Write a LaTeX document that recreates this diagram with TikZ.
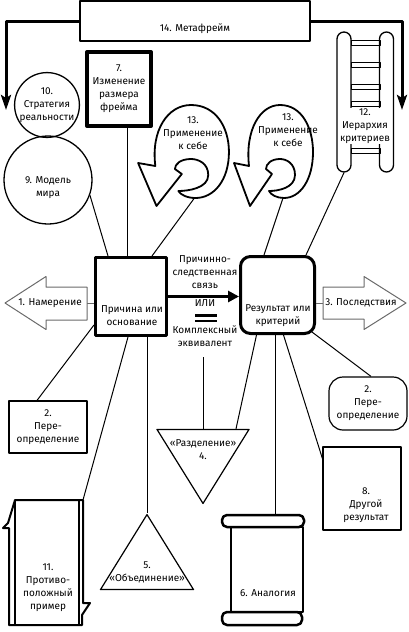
\documentclass[tikz,border=0pt]{standalone}
\usepackage{fontspec}
\setmainfont{Fira Sans}
\usepackage{xcolor}
\usepackage[]{tikz}
\usetikzlibrary{positioning,shapes,calc}
\usetikzlibrary{arrows.meta}
\definecolor{softGray}{HTML}{6A6A6A}
\tikzstyle{txt}   =[font=\fontsize{10}{13}\selectfont, align=center, inner sep=0pt]
\tikzstyle{boxThin}=[draw, line width=1.2pt, inner sep=0pt]
\tikzstyle{boxFat} =[draw, line width=3pt, inner sep=0pt]
\tikzstyle{wedge} =[draw, line width=1.2pt, isosceles triangle, isosceles triangle stretches, inner sep=0pt]
\tikzstyle{hollow}=[draw=softGray, line width=1pt]
\tikzset{fatarrow/.style={line width=3pt, -{Stealth[length=15pt,width=10pt,inset=3pt]}},
    conn/.style={line width=1pt},
    selfloop/.pic={%
        \draw[line width=1.8pt, line join=round] (-46,13) -- (-31,16)
          .. controls (-35,-20) and (-20,-45) .. (0,-45)
          .. controls (22,-45) and (33,-22) .. (33,2)
          .. controls (33,30) and (20,48) .. (4,48)
          .. controls (-3,48) and (-9,45) .. (-11,41)
          .. controls (-2,41) and (15,38) .. (15,25)
          .. controls (15,13) and (6,9) .. (0,9)
          .. controls (-9,9) and (-14,14) .. (-14,19)
          -- (-8,24) -- (-30,56) -- cycle;
        \coordinate (-tail) at (3,48);
    }
}

\begin{document}
\begin{tikzpicture}[x=1pt,y=-1pt,line join=round]
      \useasboundingbox (0,0) rectangle (408,632);
      % top row
      \node[boxThin, minimum width=230, minimum height=40] (meta) at (195,21) {};
      \node[txt] (metaT) at (195,29) {14. Метафрейм};
      \coordinate (metaL) at (6,110);
      \coordinate (metaR) at (402,110);
      \draw[fatarrow] (meta.west) -| (metaL);
      \draw[fatarrow] (meta.east) -| (metaR);
      \node[draw, line width=4pt, minimum width=64, minimum height=74, txt] (frame7) at (119,89) {7.\\Изменение\\размера\\фрейма};
      \node[draw, circle, line width=1.3pt, minimum size=62, txt] (strat10) at (47,105) {10.\\Стратегия\\реальности};
      \node[draw, circle, line width=1.3pt, minimum size=88] (model9) at (48,180) {};
      \node[txt] (model9T) at (48,188) {9. Модель\\мира};
      \pic[xscale=1.15] (selfL) at (191,150) {selfloop};
      \pic (selfR) at (280,150) {selfloop};
      \node[txt] (selfLT) at (193,133) {13.\\Применение\\к себе};
      \node[txt] (selfRT) at (288,130) {13.\\Применение\\к себе};
      % ladder
      \node[draw, line width=1.3pt, rounded corners=7pt, minimum width=14, minimum height=140] (railL) at (344,102) {};
      \node[draw, line width=1.3pt, rounded corners=7pt, minimum width=14, minimum height=140] (railR) at (386.5,102) {};
      \foreach \y in {40,62,84,101,148}
        \draw[line width=1pt] (351,\y) rectangle (380,\y+5);
      \node[txt, fill=white, inner sep=1pt] (ladderT) at (365,126) {12.\\Иерархия\\критериев};
      % centre
      \node[boxFat, minimum width=71, minimum height=78] (cause) at (131,296.5) {};
      \node[txt] (causeT) at (132,316) {Причина или\\основание};
      \node[boxFat, rounded corners=10pt, minimum width=74, minimum height=77] (result) at (277.5,295) {};
      \node[txt] (resultT) at (278,316) {Результат или\\критерий};
      \draw[line width=3pt, -{Triangle[length=11pt,width=11pt]}] (cause.east) -- (cause.east -| result.west);
      \node[txt] (linkT) at (205,272) {Причинно-\\следственная\\связь};
      \node[txt] (orT) at (205,303) {ИЛИ};
      \draw[line width=2.5pt] (195,315.5) -- (217,315.5) (195,321) -- (217,321);
      \node[txt] (equivT) at (205,336) {Комплексный\\эквивалент};
      \coordinate (eqfoot) at (203,357);
      % side arrows
      \draw[hollow] (5,303) -- (46,276.5) -- (46,287) -- (87,287) -- (87,320) -- (46,320) -- (46,329.5) -- cycle;
      \draw[hollow] (406,303) -- (364,276.5) -- (364,287) -- (323,287) -- (323,319) -- (364,319) -- (364,329.5) -- cycle;
      \node[txt] (intent) at (50,303) {1. Намерение};
      \node[txt] (conseq) at (361,303) {3. Последствия};
      \coordinate (intentTail) at (87,303);
      \coordinate (conseqTail) at (323,303);
      \draw[conn, softGray] (intentTail) -- (intentTail -| cause.west);
      \draw[conn, softGray] (conseqTail) -- (conseqTail -| result.east);
      % lower part
      \node[boxThin, minimum width=78, minimum height=52, txt] (redefL) at (48,427) {2.\\Пере-\\определение};
      \node[boxThin, rounded corners=14pt, minimum width=78, minimum height=53, txt] (redefR) at (368,403.5) {2.\\Пере-\\определение};
      \node[wedge, shape border rotate=270, minimum width=92, minimum height=74, anchor=apex] (split4) at (203,505) {};
      \node[txt] (split4T) at (203,450) {«Разделение»\\4.};
      \node[wedge, shape border rotate=90, minimum width=93, minimum height=75, anchor=apex] (unite5) at (147,513) {};
      \node[txt] (unite5T) at (147,572) {5.\\«Объединение»};
      \node[boxThin, minimum width=78, minimum height=83] (other8) at (362,488.5) {};
      \node[txt] (other8T) at (366,505) {8.\\Другой\\результат};
      % 11
      \coordinate (counter11) at (83,500);
      \draw[line width=2pt] (15,500) -- (83,500) -- (83,603) -- (90,603) -- (82,615) -- (82,625)
            -- (9,625) -- (9,528) -- (3,528) -- (8,523) -- cycle;
      \draw[line width=1.5pt] (15,500) -- (15,625) (79,500) -- (79,625);
      \node[txt] (counter11T) at (48,588) {11.\\Противо-\\положный\\пример};
      % 6
      \coordinate (scrollTop) at (275,515);
      \node[draw, line width=2.5pt, minimum width=72, minimum height=85] (analogy6) at (267,569.5) {};
      \draw[line width=2.5pt, rounded corners=5pt] (222,515) rectangle (304,527);
      \draw[line width=2.5pt, rounded corners=5pt] (222,612) rectangle (302,625);
      \node[txt] (analogy6T) at (268,593) {6. Аналогия};
      % connectors
      \draw[conn] ([xshift=8pt]frame7.south) -- ([xshift=8pt]frame7.south |- cause.north);
      \draw[conn] (model9.-20) -- ([xshift=14pt]cause.north west);
      \draw[conn] (selfL-tail) -- ([xshift=-16pt]cause.north east);
      \draw[conn] (selfR-tail) -- ([xshift=25pt]result.north west);
      \draw[conn] (railL.south) -- ([xshift=-10pt]result.north east);
      \draw[conn] ([yshift=12pt]cause.south west) -- ([xshift=-11pt]redefL.north);
      \draw[conn] ([xshift=-3pt]cause.south) -- (counter11);
      \draw[conn] (unite5.apex |- cause.south) -- (unite5.apex);
      \draw[conn] (eqfoot) -- (eqfoot |- split4.north);
      \draw[conn] ([xshift=-21pt]result.south) -- ($(split4.north)+(33,0)$);
      \draw[conn] (scrollTop |- result.south) -- (scrollTop);
      \draw[conn] ([xshift=6pt]result.south) -- ([yshift=30pt]other8.west);
      \draw[conn] ([xshift=-4pt,yshift=3pt]result.south east) -- ([xshift=3pt]redefR.north);
\end{tikzpicture}
\end{document}
